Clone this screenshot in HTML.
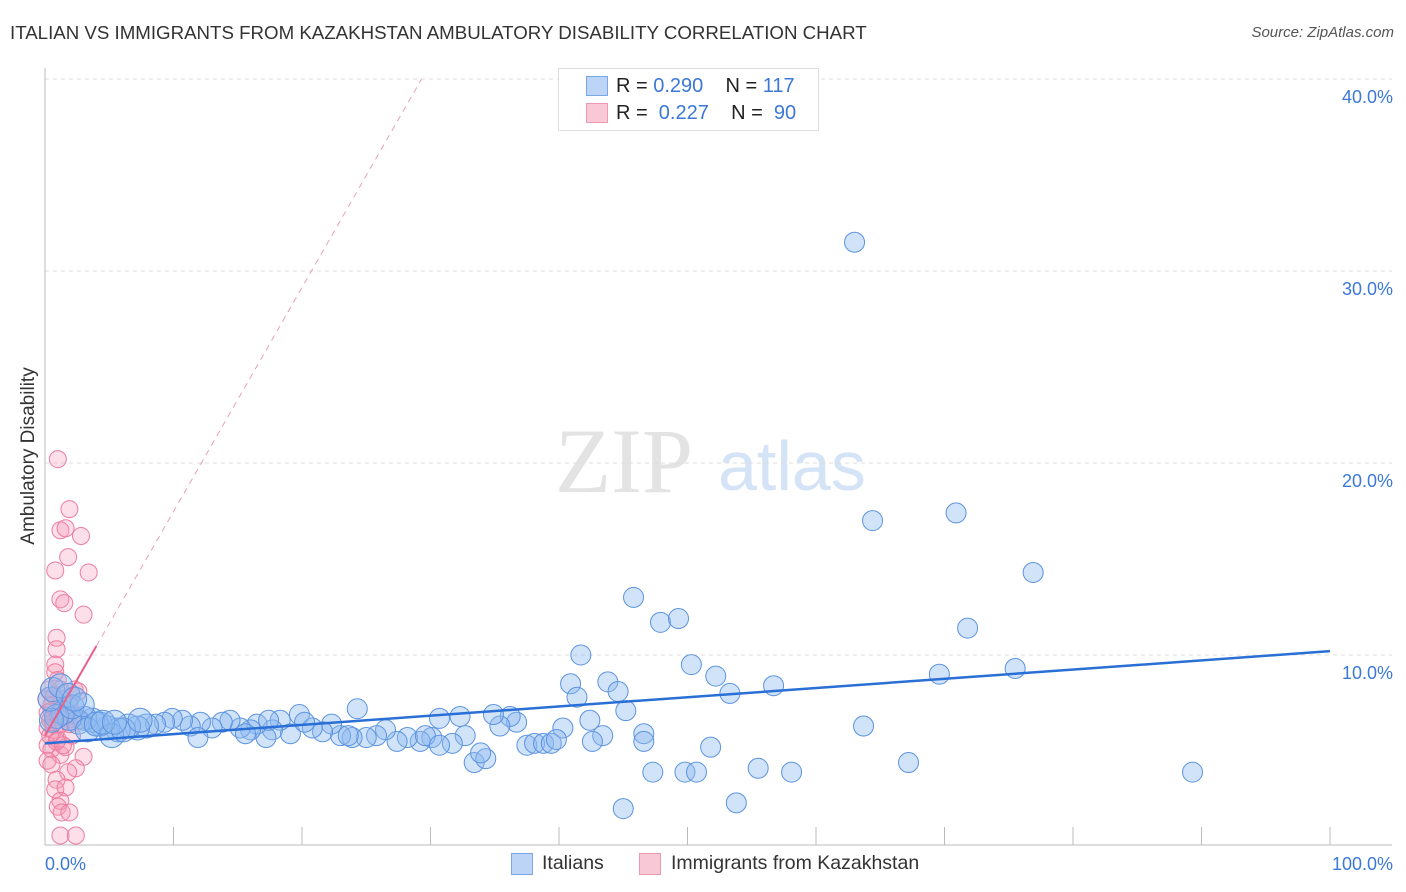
<!DOCTYPE html>
<html><head><meta charset="utf-8"><style>
body{margin:0;background:#fff;font-family:"Liberation Sans",sans-serif;}
#wrap{position:relative;width:1406px;height:892px;overflow:hidden;}
.t{position:absolute;white-space:nowrap;}
</style></head><body>
<div id="wrap">
<div class="t" style="left:10px;top:22px;font-size:18.7px;color:#333;">ITALIAN VS IMMIGRANTS FROM KAZAKHSTAN AMBULATORY DISABILITY CORRELATION CHART</div>
<div class="t" style="right:12px;top:24px;font-size:15px;color:#555;font-style:italic;">Source: ZipAtlas.com</div>
<svg id="plot" width="1406" height="892" style="position:absolute;left:0;top:0">
<text x="555" y="492" font-size="92" fill="#e3e3e3" font-family="Liberation Serif, serif">ZIP</text>
<text x="718" y="490" font-size="70" fill="#d4e3f5" font-family="Liberation Sans, sans-serif">atlas</text>
<g id="grid"></g><g id="pink"></g><g id="blue"></g><g id="lines"></g>
<text x="34" y="456" font-size="19" fill="#333" transform="rotate(-90 34 456)" text-anchor="middle">Ambulatory Disability</text>
<text x="45" y="870" font-size="18" fill="#3b78d8">0.0%</text>
<text x="1393" y="870" font-size="18" fill="#3b78d8" text-anchor="end">100.0%</text>
</svg>
<div style="position:absolute;left:558px;top:68px;width:259px;height:61px;border:1px solid #ddd;background:#fff;font-size:20px;">
<div style="position:absolute;left:27px;top:7px;width:20px;height:18px;background:#bcd4f5;border:1px solid #7aa7e6"></div>
<div class="t" style="left:57px;top:6px;color:#222">R = <span style="color:#3b78d8">0.290</span>&nbsp;&nbsp;&nbsp; N = <span style="color:#3b78d8">117</span></div>
<div style="position:absolute;left:27px;top:34px;width:20px;height:18px;background:#f8c8d6;border:1px solid #ec9ab3"></div>
<div class="t" style="left:57px;top:33px;color:#222">R = &nbsp;<span style="color:#3b78d8">0.227</span>&nbsp;&nbsp;&nbsp; N = &nbsp;<span style="color:#3b78d8">90</span></div>
</div>
<div style="position:absolute;left:511px;top:853px;width:20px;height:20px;background:#bcd4f5;border:1px solid #7aa7e6"></div>
<div class="t" style="left:542px;top:852px;font-size:19.5px;color:#333">Italians</div>
<div style="position:absolute;left:639px;top:853px;width:20px;height:20px;background:#f8c8d6;border:1px solid #ec9ab3"></div>
<div class="t" style="left:671px;top:852px;font-size:19.5px;color:#333">Immigrants from Kazakhstan</div>
</div>
<script>
const yTicks=[10,20,30,40];
const yTickLabels=["10.0%","20.0%","30.0%","40.0%"];
const blueX=[63.0,64.4,70.9,76.9,71.8,75.5,69.6,89.3,67.2,63.7,45.8,47.9,49.3,41.7,50.3,52.2,53.3,56.7,43.8,44.6,40.9,45.2,41.4,42.4,46.6,46.6,40.3,43.4,42.6,51.8,47.3,49.8,50.7,55.5,58.1,45.0,53.8,33.4,34.3,33.9,37.5,38.1,38.8,39.4,39.8,36.7,36.2,35.4,34.9,32.7,32.3,30.7,31.7,30.1,29.2,28.2,27.4,26.5,25.8,24.3,25.0,23.9,23.0,22.3,21.6,20.8,19.8,19.1,18.3,17.7,17.2,16.5,16.0,15.2,14.4,13.8,13.0,12.1,11.3,10.7,9.9,9.3,8.6,7.9,7.2,6.5,5.7,4.9,4.3,3.7,3.1,2.6,1.9,1.4,0.9,0.5,0.4,0.6,1.2,1.8,2.1,3.3,4.0,5.2,6.1,4.5,2.9,2.3,5.4,7.4,11.9,15.6,17.4,20.2,23.6,29.6,30.7];
const blueY=[31.5,17.0,17.4,14.3,11.4,9.3,9.0,3.9,4.4,6.3,13.0,11.7,11.9,10.0,9.5,8.9,8.0,8.4,8.6,8.1,8.5,7.1,7.8,6.6,5.9,5.5,6.2,5.8,5.5,5.2,3.9,3.9,3.9,4.1,3.9,2.0,2.3,4.4,4.6,4.9,5.3,5.4,5.4,5.4,5.6,6.5,6.8,6.3,6.9,5.8,6.8,6.7,5.4,5.7,5.5,5.7,5.5,6.1,5.8,7.2,5.7,5.7,5.8,6.4,6.0,6.2,6.9,5.9,6.6,6.1,5.7,6.4,6.1,6.2,6.6,6.5,6.2,6.5,6.3,6.6,6.7,6.5,6.4,6.3,6.2,6.3,6.1,6.2,6.4,6.6,6.7,6.5,6.7,7.0,6.8,6.6,7.7,8.2,8.4,7.9,7.3,6.1,6.4,5.8,6.1,6.5,7.4,7.7,6.5,6.6,5.7,5.9,6.6,6.5,5.8,5.8,5.3];
const pinkX=[1.0,1.9,1.2,1.6,2.8,1.8,0.8,3.4,1.2,1.5,3.0,0.9,0.9,0.8,0.8,1.2,1.3,1.9,2.3,2.6,0.5,0.4,0.7,1.0,0.2,0.5,1.2,1.6,2.1,2.7,0.2,0.4,0.9,0.1,0.3,1.0,2.3,3.0,2.4,1.8,0.9,0.8,1.6,1.2,1.0,1.3,1.9,1.2,2.4,0.2,0.5,0.2,0.6,1.6,1.2,1.0,1.4,0.5,0.7,1.9];
const pinkY=[20.2,17.6,16.5,16.6,16.2,15.1,14.4,14.3,12.9,12.7,12.1,10.9,10.3,9.5,9.1,8.2,7.7,7.4,8.2,8.1,7.1,6.6,6.1,5.6,5.3,5.1,4.8,5.2,5.8,6.6,6.2,5.8,5.5,7.7,8.2,8.7,6.9,4.7,4.1,3.9,3.5,3.0,3.1,2.4,2.1,1.8,1.8,0.6,0.6,4.5,4.3,7.0,6.5,6.7,6.4,6.9,5.3,7.4,7.9,6.4];
const blueTrend=[5.4,10.2];
const pinkTrend=[5.8,1.167];
const X=v=>45+v*12.85, Y=v=>847-v*19.2;
const NS="http://www.w3.org/2000/svg";
function mk(tag,attrs,parent){const e=document.createElementNS(NS,tag);for(const k in attrs)e.setAttribute(k,attrs[k]);parent.appendChild(e);return e;}
const grid=document.getElementById('grid');
yTicks.forEach((t,i)=>{
 const l=mk('line',{x1:45,x2:1392,y1:Y(t),y2:Y(t),stroke:'#ddd','stroke-dasharray':'4,4'},grid);
 
 
 const tx=mk('text',{x:1393,y:Y(t)+24,'font-size':18,fill:'#3b78d8','text-anchor':'end'},grid);
 tx.textContent=yTickLabels[i];
 
 
});
const ax=mk('line',{x1:45,x2:45,y1:68,y2:845,stroke:'#bbb'},grid);


const bx=mk('line',{x1:45,x2:1392,y1:845,y2:845,stroke:'#bbb'},grid);


for(let i=1;i<=10;i++){const tk=mk('line',{x1:X(i*10),x2:X(i*10),y1:827,y2:845,stroke:'#bbb'},grid);
 
 }
const pg=document.getElementById('pink');
pinkX.forEach((x,i)=>{const c=mk('circle',{cx:X(x),cy:Y(pinkY[i]),r:8.5,fill:'rgba(244,150,180,0.3)',stroke:'#ec7da0','stroke-width':1},pg);
 
 });
const bg=document.getElementById('blue');
blueX.forEach((x,i)=>{const c=mk('circle',{cx:X(x),cy:Y(blueY[i]),r:x<8?12:10,fill:'rgba(140,185,240,0.4)',stroke:'#5b93e0','stroke-width':1},bg);
 
 });
const lg=document.getElementById('lines');
const bl=mk('line',{x1:X(0),y1:Y(blueTrend[0]),x2:X(100),y2:Y(blueTrend[1]),stroke:'#2a6fd6','stroke-width':2.5},lg);


const pf=x=>pinkTrend[0]+pinkTrend[1]*x;
const pl=mk('line',{x1:X(0),y1:Y(pf(0)),x2:X(4),y2:Y(pf(4)),stroke:'#e8608a','stroke-width':2},lg);


const pd=mk('line',{x1:X(4),y1:Y(pf(4)),x2:X(29.3),y2:Y(pf(29.3)),stroke:'#eca0b8','stroke-width':1,'stroke-dasharray':'6,5'},lg);


</script>
</body></html>
